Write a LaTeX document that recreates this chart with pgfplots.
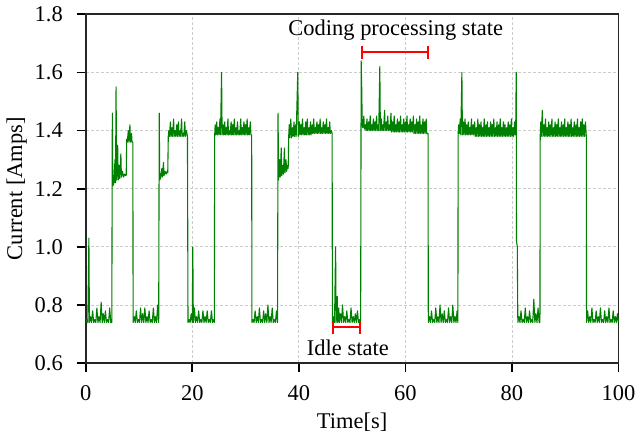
\documentclass[border=0pt]{standalone}
\usepackage{fontspec}
\setmainfont{Liberation Serif}
\usepackage{pgfplots}
\pgfplotsset{compat=1.18}
\usetikzlibrary{arrows.meta}
\definecolor{TraceGreen}{HTML}{008000}
\definecolor{MarkRed}{HTML}{FF0000}

\begin{document}
\begin{tikzpicture}[font=\fontsize{11.3}{13.5}\selectfont]
\begin{axis}[
  width=268pt,height=175.5pt,scale only axis,
  xmin=0,xmax=100,ymin=0.6,ymax=1.8,
  xtick={0,20,40,60,80,100},
  ytick={0.6,0.8,1.0,1.2,1.4,1.6,1.8},
  yticklabel style={/pgf/number format/fixed,/pgf/number format/fixed zerofill,
    /pgf/number format/precision=1,xshift=-3.5pt},
  xticklabel style={yshift=-3pt},
  /pgf/number format/assume math mode=true,
  tick pos=left,tick align=outside,
  major tick length=4.5pt,
  every tick/.style={black,line width=0.9pt},
  axis line style={black!85,line width=0.9pt},
  grid=major,
  grid style={dash pattern=on 1.5pt off 1pt,gray!40,line width=0.4pt},
  xlabel={Time[s]},
  ylabel={Current [Amps]},
  xlabel style={yshift=0.5pt},
  ylabel style={yshift=-3pt},
]
\addplot[TraceGreen,line width=0.55pt,line join=round] coordinates {
(0.0,0.74)(0.2,0.75)(0.4,0.74)(0.6,1.03)(0.7,0.74)(0.9,0.76)(1.1,0.74)(1.3,0.78)(1.5,0.74)(1.7,0.75)
(1.9,0.74)(2.1,0.79)(2.3,0.74)(2.5,0.76)(2.7,0.74)(2.9,0.81)(3.1,0.74)(3.3,0.77)(3.5,0.74)(3.7,0.78)
(3.9,0.74)(4.1,0.75)(4.3,0.74)(4.5,0.79)(4.7,0.74)(4.9,0.74)
(5.0,1.46)(5.1,1.21)(5.3,1.22)(5.5,1.30)(5.6,1.22)(5.7,1.55)(5.8,1.23)(6.0,1.35)(6.1,1.23)(6.3,1.28)
(6.4,1.235)(6.6,1.32)(6.7,1.24)(6.9,1.26)(7.1,1.24)(7.3,1.25)(7.5,1.245)(7.6,1.245)
(7.7,1.37)(7.8,1.36)(8.0,1.40)(8.1,1.36)(8.3,1.42)(8.4,1.36)(8.6,1.39)(8.7,1.36)(8.85,1.36)
(8.9,0.74)(9.1,0.76)(9.3,0.74)(9.5,0.78)(9.7,0.74)(9.9,0.75)(10.1,0.74)(10.3,0.79)(10.5,0.74)(10.7,0.77)
(10.9,0.74)(11.1,0.79)(11.3,0.74)(11.5,0.76)(11.7,0.74)(11.9,0.78)(12.1,0.74)(12.3,0.75)(12.5,0.74)
(12.7,0.79)(12.9,0.74)(13.1,0.76)(13.3,0.74)(13.5,0.80)(13.7,0.74)
(13.8,1.46)(13.9,1.23)(14.1,1.24)(14.3,1.27)(14.4,1.24)(14.6,1.29)(14.7,1.245)(14.9,1.26)(15.1,1.25)
(15.3,1.26)(15.4,1.255)
(15.5,1.38)(15.6,1.40)(15.7,1.38)(15.9,1.43)(16.0,1.38)(16.2,1.41)(16.3,1.38)(16.5,1.44)(16.6,1.38)
(16.8,1.40)(16.9,1.38)(17.1,1.42)(17.2,1.38)(17.4,1.43)(17.5,1.38)(17.7,1.40)(17.8,1.38)(18.0,1.44)
(18.1,1.38)(18.3,1.39)(18.4,1.38)(18.6,1.43)(18.7,1.38)(18.9,1.40)(19.1,1.38)
(19.2,0.74)(19.4,0.75)(19.6,0.74)(19.8,0.77)(20.0,0.74)(20.1,1.00)(20.2,0.74)(20.4,0.79)(20.6,0.74)
(20.8,0.76)(21.0,0.74)(21.2,0.78)(21.4,0.74)(21.6,0.75)(21.8,0.74)(22.0,0.78)(22.2,0.74)(22.4,0.76)
(22.6,0.74)(22.8,0.78)(23.0,0.74)(23.2,0.75)(23.4,0.74)(23.6,0.78)(23.8,0.74)(24.0,0.75)(24.15,0.74)
(24.2,1.38)(24.3,1.42)(24.4,1.385)(24.6,1.43)(24.7,1.385)(24.9,1.41)(25.0,1.385)(25.2,1.44)(25.3,1.385)
(25.5,1.60)(25.6,1.385)(25.8,1.42)(25.9,1.385)(26.1,1.43)(26.2,1.385)(26.4,1.41)(26.5,1.385)(26.7,1.44)
(26.8,1.385)(27.0,1.40)(27.1,1.385)(27.3,1.43)(27.4,1.385)(27.6,1.42)(27.7,1.385)(27.9,1.44)(28.0,1.385)
(28.2,1.41)(28.3,1.385)(28.5,1.43)(28.6,1.385)(28.8,1.40)(28.9,1.385)(29.1,1.44)(29.2,1.385)(29.4,1.41)
(29.5,1.385)(29.7,1.43)(29.8,1.385)(30.0,1.42)(30.1,1.385)(30.3,1.44)(30.4,1.385)(30.6,1.41)(30.7,1.385)
(30.9,1.43)(31.0,1.385)(31.15,1.385)
(31.2,0.74)(31.4,0.75)(31.6,0.74)(31.8,0.78)(32.0,0.74)(32.2,0.76)(32.4,0.74)(32.6,0.79)(32.8,0.74)
(33.0,0.75)(33.2,0.74)(33.4,0.78)(33.6,0.74)(33.8,0.77)(34.0,0.74)(34.2,0.80)(34.4,0.74)(34.6,0.76)
(34.8,0.74)(35.0,0.79)(35.2,0.74)(35.4,0.75)(35.6,0.74)(35.8,0.78)(36.0,0.74)
(36.1,1.46)(36.2,1.23)(36.4,1.30)(36.5,1.24)(36.7,1.34)(36.8,1.245)(37.0,1.28)(37.1,1.25)(37.3,1.34)
(37.4,1.255)(37.6,1.30)(37.7,1.26)(37.9,1.28)(38.0,1.27)
(38.1,1.38)(38.2,1.42)(38.3,1.375)(38.5,1.44)(38.6,1.375)(38.8,1.41)(38.9,1.38)(39.1,1.43)(39.2,1.38)
(39.4,1.42)(39.5,1.38)(39.8,1.60)(39.9,1.38)(40.1,1.43)(40.2,1.385)(40.4,1.42)(40.5,1.385)(40.7,1.44)
(40.8,1.385)(41.0,1.41)(41.1,1.385)(41.3,1.43)(41.4,1.385)(41.6,1.44)(41.7,1.385)(41.9,1.41)(42.0,1.385)
(42.2,1.43)(42.3,1.385)(42.5,1.42)(42.6,1.39)(42.8,1.44)(42.9,1.39)(43.1,1.41)(43.2,1.39)(43.4,1.43)
(43.5,1.39)(43.7,1.42)(43.8,1.39)(44.0,1.44)(44.1,1.39)(44.3,1.41)(44.4,1.39)(44.6,1.43)(44.7,1.39)
(44.9,1.42)(45.0,1.39)(45.2,1.44)(45.3,1.39)(45.5,1.41)(45.6,1.39)(45.8,1.43)(45.9,1.39)(46.1,1.40)
(46.25,1.39)
(46.3,0.74)(46.5,0.76)(46.7,0.74)(46.9,1.00)(47.0,0.74)(47.2,0.83)(47.3,0.74)(47.5,0.79)(47.6,0.74)
(47.8,0.77)(48.0,0.74)(48.2,0.80)(48.4,0.74)(48.6,0.76)(48.8,0.74)(49.0,0.78)(49.2,0.74)(49.4,0.75)
(49.6,0.74)(49.8,0.79)(50.0,0.74)(50.2,0.76)(50.4,0.74)(50.6,0.77)(50.8,0.74)(51.0,0.78)(51.2,0.74)
(51.4,0.75)(51.6,0.74)
(51.7,1.64)(51.8,1.55)(51.9,1.42)(52.0,1.41)(52.2,1.45)(52.3,1.405)(52.5,1.42)(52.6,1.40)(52.8,1.44)
(52.9,1.40)(53.1,1.43)(53.2,1.40)(53.4,1.45)(53.5,1.40)(53.7,1.42)(53.8,1.40)(54.0,1.44)(54.1,1.40)
(54.3,1.43)(54.4,1.40)(54.6,1.45)(54.7,1.40)(54.9,1.42)(55.0,1.40)(55.2,1.62)(55.3,1.40)(55.5,1.44)
(55.6,1.40)(55.8,1.42)(55.9,1.40)(56.1,1.47)(56.2,1.40)(56.4,1.43)(56.5,1.40)(56.7,1.45)(56.8,1.40)
(57.0,1.42)(57.1,1.40)(57.3,1.46)(57.4,1.395)(57.6,1.43)(57.7,1.395)(57.9,1.45)(58.0,1.395)(58.2,1.42)
(58.3,1.395)(58.5,1.44)(58.6,1.395)(58.8,1.43)(58.9,1.395)(59.1,1.45)(59.2,1.395)(59.4,1.42)(59.5,1.395)
(59.7,1.44)(59.8,1.395)(60.0,1.43)(60.1,1.395)(60.3,1.45)(60.4,1.395)(60.6,1.42)(60.7,1.395)(60.9,1.44)
(61.0,1.395)(61.2,1.43)(61.3,1.395)(61.5,1.45)(61.6,1.39)(61.8,1.42)(61.9,1.39)(62.1,1.44)(62.2,1.39)
(62.4,1.43)(62.5,1.39)(62.7,1.45)(62.8,1.39)(63.0,1.42)(63.1,1.39)(63.3,1.44)(63.4,1.39)(63.6,1.43)
(63.7,1.39)(63.9,1.44)(64.0,1.39)(64.25,1.39)
(64.3,0.74)(64.5,0.76)(64.7,0.74)(64.9,0.78)(65.1,0.74)(65.3,0.75)(65.5,0.74)(65.7,0.79)(65.9,0.74)
(66.1,0.76)(66.3,0.74)(66.5,0.80)(66.7,0.74)(66.9,0.77)(67.1,0.74)(67.3,0.78)(67.5,0.74)(67.7,0.75)
(67.9,0.74)(68.1,0.79)(68.3,0.74)(68.5,0.76)(68.7,0.74)(68.9,0.80)(69.1,0.74)(69.3,0.76)(69.5,0.74)
(69.7,0.78)(69.85,0.74)
(69.9,1.39)(70.0,1.42)(70.1,1.39)(70.3,1.44)(70.4,1.385)(70.6,1.60)(70.7,1.385)(70.9,1.43)(71.0,1.385)
(71.2,1.44)(71.3,1.385)(71.5,1.42)(71.6,1.385)(71.8,1.43)(71.9,1.385)(72.1,1.41)(72.2,1.385)(72.4,1.44)
(72.5,1.385)(72.7,1.42)(72.8,1.385)(73.0,1.43)(73.1,1.38)(73.3,1.41)(73.4,1.38)(73.6,1.44)(73.7,1.38)
(73.9,1.42)(74.0,1.38)(74.2,1.43)(74.3,1.38)(74.5,1.41)(74.6,1.38)(74.8,1.44)(74.9,1.38)(75.1,1.42)
(75.2,1.38)(75.4,1.43)(75.5,1.38)(75.7,1.41)(75.8,1.38)(76.0,1.43)(76.1,1.38)(76.3,1.42)(76.4,1.38)
(76.6,1.44)(76.7,1.38)(76.9,1.41)(77.0,1.38)(77.2,1.43)(77.3,1.38)(77.5,1.42)(77.6,1.38)(77.8,1.44)
(77.9,1.38)(78.1,1.41)(78.2,1.38)(78.4,1.43)(78.5,1.38)(78.7,1.42)(78.8,1.38)(79.0,1.41)(79.1,1.38)
(79.3,1.43)(79.4,1.38)(79.6,1.42)(79.7,1.38)(79.9,1.44)(80.0,1.38)(80.2,1.41)(80.3,1.38)(80.5,1.43)
(80.6,1.385)(80.7,1.40)(80.8,1.60)(80.85,1.02)(81.0,1.00)(81.1,0.74)
(81.3,0.76)(81.5,0.74)(81.7,0.78)(81.9,0.74)(82.1,0.75)(82.3,0.74)(82.5,0.79)(82.7,0.74)(82.9,0.76)
(83.1,0.74)(83.3,0.78)(83.5,0.74)(83.7,0.75)(83.9,0.74)(84.1,0.82)(84.3,0.74)(84.5,0.77)(84.7,0.74)
(84.9,0.79)(85.1,0.74)(85.25,0.74)
(85.3,1.38)(85.4,1.43)(85.5,1.38)(85.7,1.47)(85.8,1.38)(86.0,1.42)(86.1,1.38)(86.3,1.44)(86.4,1.38)
(86.6,1.41)(86.7,1.38)(86.9,1.43)(87.0,1.38)(87.2,1.42)(87.3,1.38)(87.5,1.44)(87.6,1.38)(87.8,1.41)
(87.9,1.38)(88.1,1.43)(88.2,1.38)(88.4,1.42)(88.5,1.38)(88.7,1.44)(88.8,1.38)(89.0,1.41)(89.1,1.38)
(89.3,1.43)(89.4,1.38)(89.6,1.42)(89.7,1.38)(89.9,1.44)(90.0,1.38)(90.2,1.41)(90.3,1.38)(90.5,1.43)
(90.6,1.38)(90.8,1.42)(90.9,1.38)(91.1,1.44)(91.2,1.38)(91.4,1.41)(91.5,1.38)(91.7,1.43)(91.8,1.38)
(92.0,1.42)(92.1,1.38)(92.3,1.44)(92.4,1.38)(92.6,1.41)(92.7,1.38)(92.9,1.43)(93.0,1.38)(93.2,1.44)
(93.3,1.38)(93.5,1.42)(93.6,1.38)(93.8,1.43)(93.95,1.38)
(94.0,0.74)(94.2,0.78)(94.4,0.74)(94.6,0.76)(94.8,0.74)(95.0,0.79)(95.2,0.74)(95.4,0.75)(95.6,0.74)
(95.8,0.78)(96.0,0.74)(96.2,0.76)(96.4,0.74)(96.6,0.79)(96.8,0.74)(97.0,0.75)(97.2,0.74)(97.4,0.78)
(97.6,0.74)(97.8,0.76)(98.0,0.74)(98.2,0.79)(98.4,0.74)(98.6,0.75)(98.8,0.74)(99.0,0.78)(99.2,0.74)
(99.4,0.76)(99.6,0.74)(99.8,0.77)(100,0.74)
};
% annotations
\draw[MarkRed,line width=1pt,{Bar[width=6.5pt]}-{Bar[width=6.5pt]}]
  (axis cs:51.7,1.670) -- (axis cs:64.4,1.670);
\node at (axis cs:58.2,1.745) {Coding processing state};
\draw[MarkRed,line width=1pt,{Bar[width=6.5pt]}-{Bar[width=6.5pt]}]
  (axis cs:46.3,0.724) -- (axis cs:51.7,0.724);
\node at (axis cs:49.2,0.652) {Idle state};
\end{axis}
\end{tikzpicture}
\end{document}
